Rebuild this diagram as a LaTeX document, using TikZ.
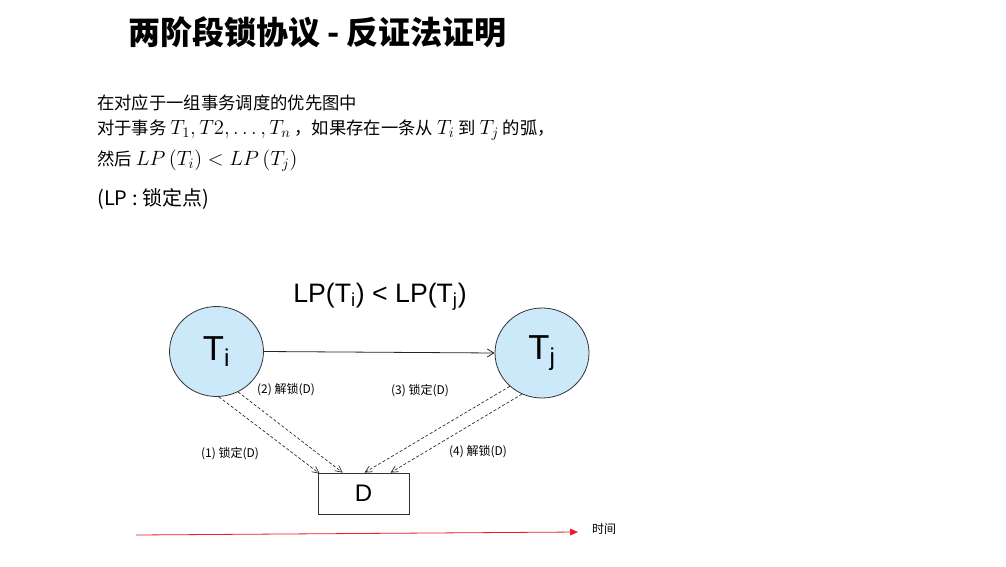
\RequirePackage{fix-cm}
\documentclass[tikz,border=0pt]{standalone}
\usepackage[no-math]{fontspec}
\setmainfont{Noto Sans CJK SC}
\newfontfamily\arial{Liberation Sans}
\usetikzlibrary{arrows.meta,calc,shapes.geometric}
\definecolor{bubble}{RGB}{204,233,250}
\definecolor{timeline}{RGB}{238,28,36}
% inline formulas are set a little larger than the surrounding text
\newcommand\mth[1]{{\fontsize{15.5}{18}\selectfont$#1$}}
\begin{document}
\begin{tikzpicture}[x=0.75pt,y=-0.75pt,
  txn/.style={ellipse, draw=black!80, line width=0.6pt, fill=bubble,
    minimum width=70.5pt, minimum height=67.5pt, inner sep=0pt,
    font=\arial\fontsize{26}{30}\selectfont},
  resbox/.style={rectangle, draw=black!80, line width=0.6pt,
    minimum width=68.25pt, minimum height=30.75pt, inner sep=0pt,
    font=\arial\fontsize{18}{22}\selectfont},
  lockarrow/.style={draw=black!85, line width=0.5pt, dash pattern=on 2.25pt off 1.5pt,
    -{Straight Barb[length=5pt,width=5pt]}},
  steplabel/.style={font=\fontsize{9}{11}\selectfont, inner sep=1pt},
  bodytext/.style={anchor=west, inner sep=0pt, font=\fontsize{13}{16}\selectfont}]
\useasboundingbox (0,0) rectangle (1006,567);

% heading
\node (title) at (317.5,32) {\bfseries\fontsize{24}{28}\selectfont 两阶段锁协议 - 反证法证明};

% statement of the claim
\node[bodytext] (l1) at (97,103) {在对应于一组事务调度的优先图中};
\node[bodytext] (l2) at (97,130) {对于事务 \mth{T_1, T2, \ldots, T_n} ，如果存在一条从 \mth{T_i} 到 \mth{T_j} 的弧，};
\node[bodytext] (l3) at (97,161) {然后 \mth{LP\left(T_i\right) < LP\left(T_j\right)}};
\node[anchor=west, inner sep=0pt, font=\fontsize{15}{18}\selectfont] (lp) at (97,199) {(LP : 锁定点)};

% transactions and the shared item
\node[txn] (Ti) at (216.5,351.5) {T\textsubscript{i}};
\node[txn] (Tj) at (542,353) {T\textsubscript{j}};
\node[resbox] (D) at (363.5,493.5) {D};

\node (order) at (380,297) {\arial\fontsize{20}{24}\selectfont LP(T\textsubscript{i}) < LP(T\textsubscript{j})};

\draw[draw=black!85, line width=0.6pt, -{Straight Barb[length=5pt,width=6pt]}] (Ti.east) -- (Tj.west);

% lock / unlock operations on D
\draw[lockarrow] (Ti.-87) -- ($(D.north west)+(2,1)$);
\draw[lockarrow] (Ti.-62) -- ($(D.north west)+(25,0)$);
\draw[lockarrow] (Tj.-134) -- ($(D.north west)+(47,0)$);
\draw[lockarrow] (Tj.-116) -- ($(D.north west)+(73,0)$);

\node[steplabel] (s2) at (286,390) {(2) 解锁(D)};
\node[steplabel] (s3) at (420,391) {(3) 锁定(D)};
\node[steplabel] (s1) at (230,454) {(1) 锁定(D)};
\node[steplabel] (s4) at (478,452) {(4) 解锁(D)};

% time axis
\coordinate (t0) at (136,535);
\coordinate (t1) at (578,532);
\draw[timeline, line width=0.6pt, -{Triangle[length=6pt,width=5pt]}] (t0) -- (t1);
\node[font=\fontsize{9}{11}\selectfont] (time) at (604,529) {时间};
\end{tikzpicture}
\end{document}
